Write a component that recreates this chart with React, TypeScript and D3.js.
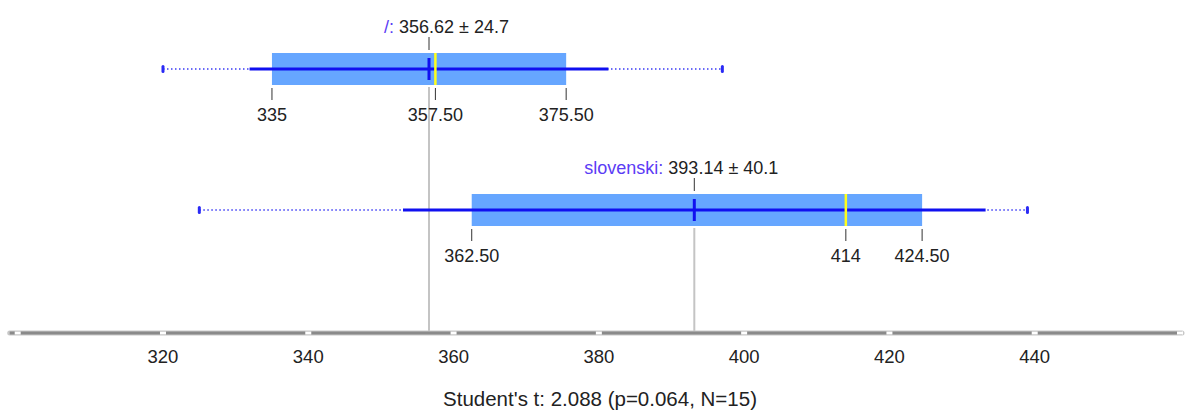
import React from "react";
import * as d3 from "d3";

const groups = ["/", "slovenski"];
const means = [356.62, 393.14];
const sds = [24.7, 40.1];
const mins = [320, 325];
const maxs = [397, 439];
const q1s = [335, 362.5];
const medians = [357.5, 414];
const q3s = [375.5, 424.5];
const quartileLabels = [
  ["335", "357.50", "375.50"],
  ["362.50", "414", "424.50"],
];
const axisTicks = [300, 320, 340, 360, 380, 400, 420, 440, 460];
const axisLabels = [320, 340, 360, 380, 400, 420, 440];
const title = "Student's t: 2.088 (p=0.064, N=15)";

const W = 1188;
const H = 410;
const FONT = "Liberation Sans, Arial, Helvetica, sans-serif";
const labelOffsets = [-45, -110];

export default function App() {
  const x = d3.scaleLinear().domain([300, 460]).range([17.7, 1180]);
  const rowY = [69, 210];
  const boxH = 32;
  const axisY = 333;
  const [d0, d1] = x.domain();

  return (
    <svg
      width={W}
      height={H}
      style={{ position: "absolute", left: 0, top: 0, background: "#fff" }}
      fontFamily={FONT}
    >
      {groups.map((g, i) => (
        <line
          key={"gl" + i}
          x1={x(means[i])}
          x2={x(means[i])}
          y1={rowY[i] + boxH / 2 + 2}
          y2={axisY}
          stroke="#c4c4c4"
          strokeWidth={2}
        />
      ))}
      {groups.map((g, i) => {
        const cy = rowY[i];
        const mx = x(means[i]);
        return (
          <g key={g}>
            <line
              x1={x(mins[i])}
              x2={x(maxs[i])}
              y1={cy}
              y2={cy}
              stroke="#3a3af5"
              strokeWidth={1.5}
              strokeDasharray="1.5,2.5"
            />
            {[mins[i], maxs[i]].map((v, k) => (
              <rect
                key={k}
                x={x(v) - 1.5}
                y={cy - 4}
                width={3}
                height={8}
                rx={1.5}
                fill="#2a2af5"
              />
            ))}
            <rect
              x={x(q1s[i])}
              y={cy - boxH / 2}
              width={x(q3s[i]) - x(q1s[i])}
              height={boxH}
              fill="#66a6ff"
            />
            <line
              x1={x(means[i] - sds[i])}
              x2={x(means[i] + sds[i])}
              y1={cy}
              y2={cy}
              stroke="#1010f0"
              strokeWidth={3}
            />
            <line
              x1={x(medians[i])}
              x2={x(medians[i])}
              y1={cy - boxH / 2}
              y2={cy + boxH / 2}
              stroke="#ffff1a"
              strokeWidth={2.5}
            />
            <line
              x1={mx}
              x2={mx}
              y1={cy - 11}
              y2={cy + 11}
              stroke="#1010f0"
              strokeWidth={3}
            />
            <line
              x1={mx}
              x2={mx}
              y1={cy - 32}
              y2={cy - 19}
              stroke="#333"
              strokeWidth={1}
            />
            <text x={mx + labelOffsets[i]} y={cy - 36} fontSize={18} fill="#222">
              <tspan fill="#5b3cf5">{g}:</tspan>
              <tspan>{" " + means[i].toFixed(2) + " \u00b1 " + sds[i].toFixed(1)}</tspan>
            </text>
            {[q1s[i], medians[i], q3s[i]].map((v, k) => (
              <g key={"q" + k}>
                <line
                  x1={x(v)}
                  x2={x(v)}
                  y1={cy + 19}
                  y2={cy + 31}
                  stroke="#333"
                  strokeWidth={1}
                />
                <text
                  x={x(v)}
                  y={cy + 52}
                  textAnchor="middle"
                  fontSize={18}
                  fill="#222"
                >
                  {quartileLabels[i][k]}
                </text>
              </g>
            ))}
          </g>
        );
      })}
      <line
        x1={x(d0) - 8}
        x2={x(d1) + 2}
        y1={axisY}
        y2={axisY}
        stroke="#c8c8c8"
        strokeWidth={5}
        strokeLinecap="round"
      />
      <line
        x1={x(d0) - 8}
        x2={x(d1) + 2}
        y1={axisY}
        y2={axisY}
        stroke="#8a8a8a"
        strokeWidth={3}
      />
      {axisTicks.map((t) => (
        <rect
          key={t}
          x={x(t) - 3}
          y={axisY - 1.5}
          width={6}
          height={3}
          fill="#fff"
        />
      ))}
      {axisLabels.map((t) => (
        <text
          key={t}
          x={x(t)}
          y={axisY + 30}
          textAnchor="middle"
          fontSize={18.5}
          fill="#222"
        >
          {t}
        </text>
      ))}
      <text x={600} y={406} textAnchor="middle" fontSize={20.5} fill="#222">
        {title}
      </text>
    </svg>
  );
}
